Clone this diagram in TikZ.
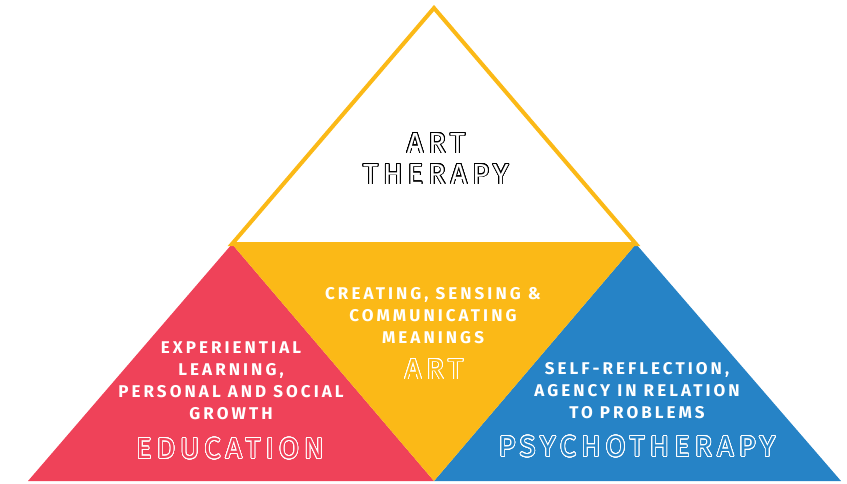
\documentclass[tikz,border=0pt]{standalone}
\usepackage{fontspec}
\usepackage{xcolor}
\usepackage[copies]{contour}
\setmainfont{Fira Sans}
\newfontfamily\bodyfont[LetterSpace=18]{Fira Sans}
\newfontfamily\titlefont[LetterSpace=17]{Fira Sans}
\definecolor{artred}{HTML}{EF4259}
\definecolor{artyellow}{HTML}{FBB917}
\definecolor{artblue}{HTML}{2683C6}
\contournumber{32}
\contourlength{0.8pt}
% hollow letters: #1 outline colour, #2 inside colour
\newcommand\hollow[3]{\contour{#1}{\textcolor{#2}{#3}}}

\begin{document}
\begin{tikzpicture}[x=1pt,y=-1pt,
		body/.style={inner sep=0pt, anchor=north, align=center, text=white,
			font=\bodyfont\bfseries\fontsize{17}{22}\selectfont},
		title/.style={inner sep=0pt, anchor=north, align=center,
			font=\titlefont\fontsize{29}{32}\selectfont}]
		\useasboundingbox (0,0) rectangle (847,483);
		% the three lower triangles
		\fill[artred] (232,244) -- (28,481) -- (434,481) -- cycle;
		\fill[artblue] (636,244) -- (434,481) -- (841,481) -- cycle;
		\fill[artyellow] (232,244) -- (636,244) -- (434,481) -- cycle;
		% top triangle
		\draw[artyellow, line width=4pt, line join=miter] (434,8) -- (232,244) -- (636,244) -- cycle;
		% texts
		\node[title] (arttherapy) at (436,133) {\hollow{black}{white}{ART}\\[-1pt]\hollow{black}{white}{THERAPY}};
		\node[body] (artwords) at (433,287) {CREATING, SENSING \&\\COMMUNICATING\\MEANINGS};
		\node[title] (art) at (434,359) {\hollow{white}{artyellow}{ART}};
		\node[body] (eduwords) at (231,342) {EXPERIENTIAL\\LEARNING,\\PERSONAL AND SOCIAL\\GROWTH};
		\node[title] (education) at (230,438) {\hollow{white}{artred}{EDUCATION}};
		\node[body] (psywords) at (637,362) {SELF-REFLECTION,\\AGENCY IN RELATION\\TO PROBLEMS};
		\node[title] (psychotherapy) at (637,436) {\hollow{white}{artblue}{PSYCHOTHERAPY}};
\end{tikzpicture}
\end{document}
